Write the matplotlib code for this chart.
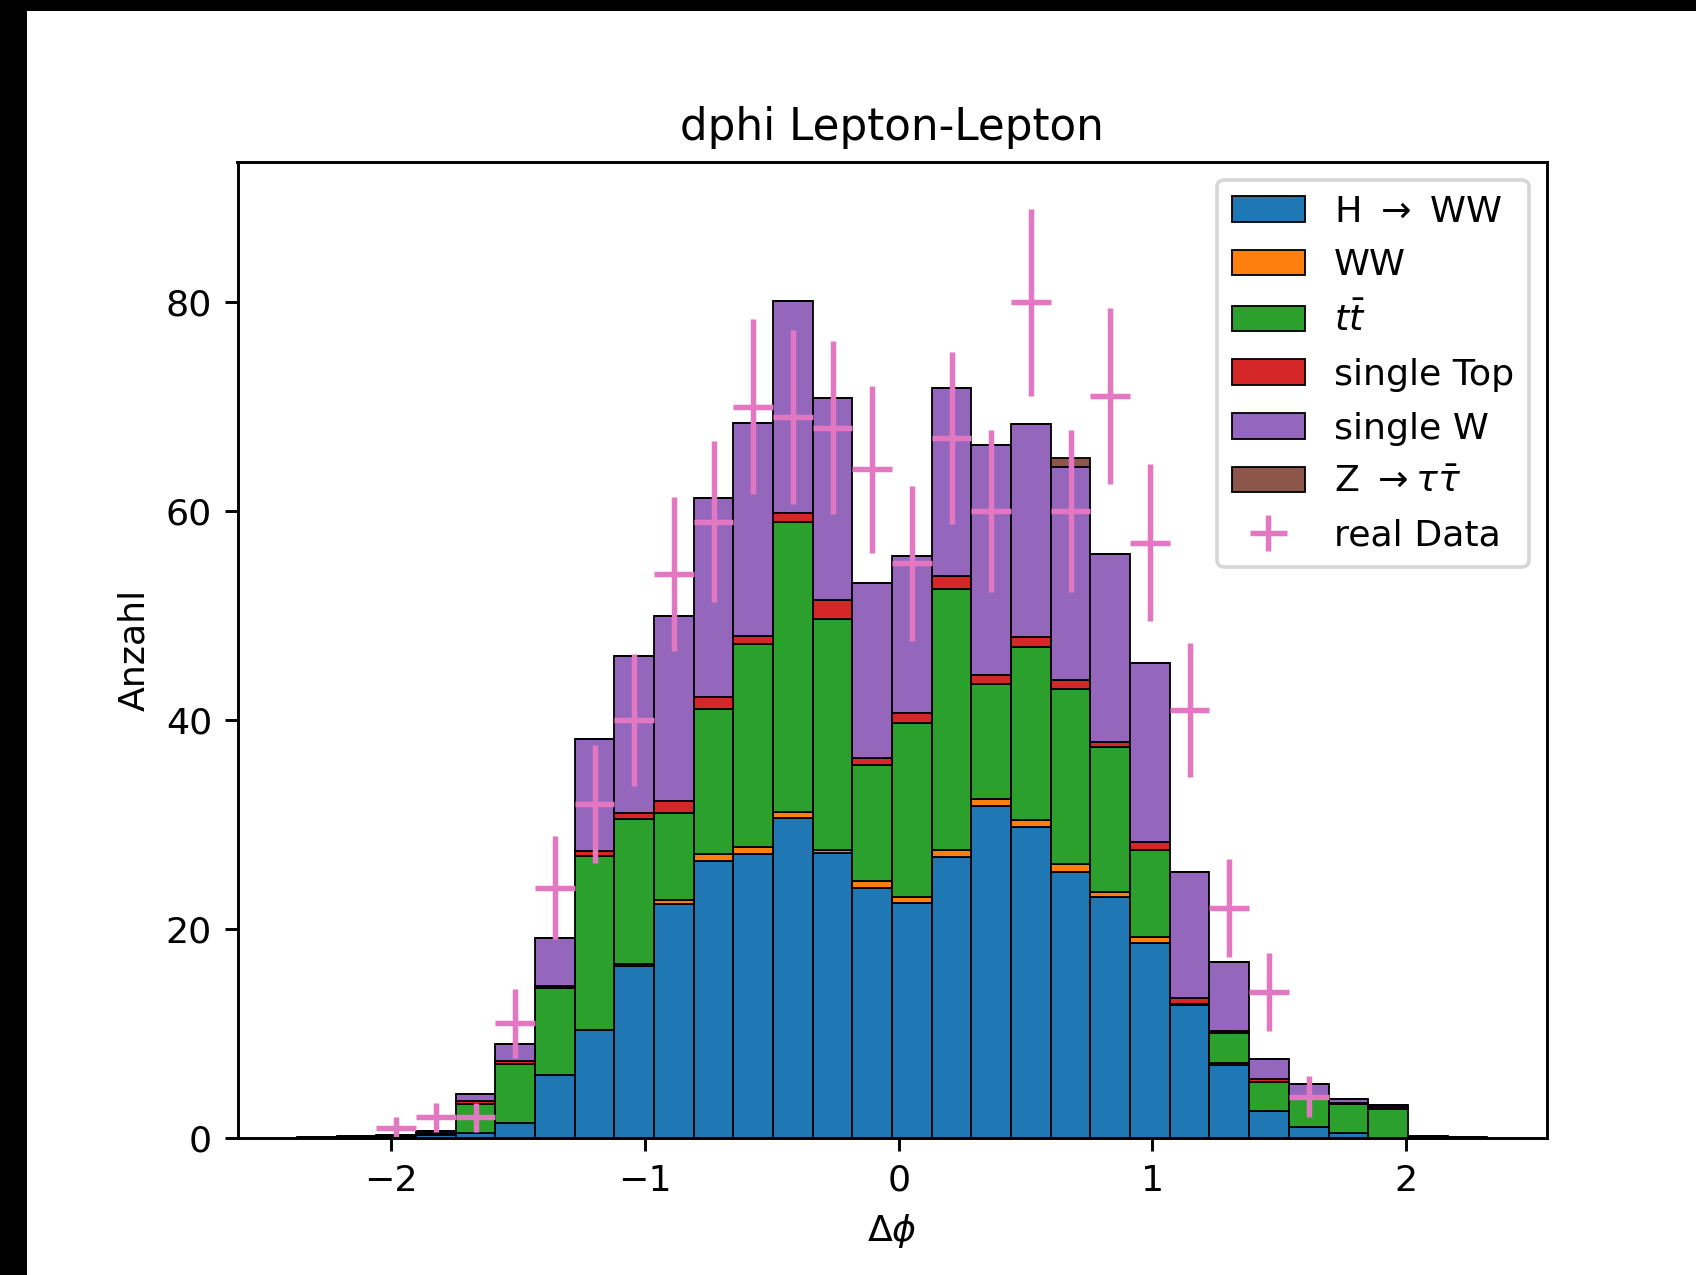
import numpy as np
import matplotlib
matplotlib.use("Agg")
import matplotlib.pyplot as plt
from matplotlib.patches import Rectangle

# ---- data ----
phi_min, phi_max, n_bins = -2.372, 2.320, 30

labels = [r'H $\rightarrow$ WW', 'WW', r'$t\bar{t}$', 'single Top', 'single W',
          r'Z $\rightarrow \tau\bar{\tau}$']
colors = ['tab:blue', 'tab:orange', 'tab:green', 'tab:red', 'tab:purple', 'tab:brown']

h_ww = [0.05, 0.1, 0.15, 0.3, 0.5, 1.52, 6.08, 10.33, 16.46, 22.4, 26.58, 27.22, 30.67, 27.32, 24.0,
        22.53, 26.96, 31.82, 29.81, 25.5, 23.13, 18.7, 12.74, 7.06, 2.59, 1.12, 0.54, 0.0, 0.1, 0.05]
ww = [0, 0, 0, 0, 0, 0, 0.02, 0.07, 0.24, 0.45, 0.64, 0.61, 0.54, 0.22, 0.64,
      0.55, 0.61, 0.6, 0.6, 0.79, 0.42, 0.57, 0.06, 0.19, 0.01, 0, 0, 0, 0, 0]
ttbar = [0, 0, 0.05, 0.15, 2.77, 5.58, 8.32, 16.6, 13.9, 8.3, 13.82, 19.44, 27.71, 22.19, 11.07,
         16.65, 24.97, 11.08, 16.64, 16.67, 13.85, 8.27, 0.1, 2.81, 2.83, 2.68, 2.71, 2.84, 0.05, 0.02]
single_top = [0, 0, 0, 0.1, 0.26, 0.35, 0.16, 0.47, 0.55, 1.11, 1.18, 0.83, 0.93, 1.77, 0.71,
              1.0, 1.21, 0.8, 0.95, 0.93, 0.55, 0.83, 0.5, 0.24, 0.29, 0.05, 0.1, 0.16, 0, 0]
single_w = [0.05, 0.1, 0.1, 0.2, 0.7, 1.6, 4.56, 10.7, 15.0, 17.72, 19.0, 20.3, 20.25, 19.36, 16.68,
            14.94, 18.05, 22.0, 20.3, 20.31, 17.91, 17.13, 12.06, 6.53, 1.85, 1.32, 0.39, 0.16, 0.05, 0.03]
z_tautau = [0, 0, 0, 0, 0, 0, 0, 0, 0, 0, 0, 0, 0, 0, 0,
            0, 0, 0, 0, 0.85, 0, 0, 0, 0, 0, 0, 0, 0, 0, 0]

data_counts = [0, 0, 1, 2, 2, 11, 24, 32, 40, 54, 59, 70, 69, 68, 64,
               55, 67, 60, 80, 60, 71, 57, 41, 22, 14, 4, 0, 0, 0, 0]

# ---- figure ----
W, H, DPI = 1696, 1275, 262
fig = plt.figure(figsize=(W / DPI, H / DPI), dpi=DPI, facecolor='black')
fig.add_artist(Rectangle((27 / W, 0), 1 - 27 / W, 1 - 11 / H, transform=fig.transFigure,
                         facecolor='white', edgecolor='none', zorder=-10))
ax = fig.add_axes([237.5 / W, 1 - 1138.4 / H, (1546.7 - 237.5) / W, (1138.4 - 162) / H])

edges = np.linspace(phi_min, phi_max, n_bins + 1)
centers = 0.5 * (edges[:-1] + edges[1:])
width = edges[1] - edges[0]

series = [h_ww, ww, ttbar, single_top, single_w, z_tautau]
ax.hist([centers] * len(series), bins=edges, weights=series, stacked=True,
        color=colors, label=labels, edgecolor='black', linewidth=0.5)

dc = np.array(data_counts, dtype=float)
mask = dc > 0
ax.errorbar(centers[mask], dc[mask], xerr=width / 2, yerr=np.sqrt(dc[mask]),
            fmt='none', ecolor='tab:pink', elinewidth=1.5, label='real Data')

ax.set_xlim(phi_min - 0.05 * (phi_max - phi_min), phi_max + 0.05 * (phi_max - phi_min))
ax.set_ylim(0, 93.4)
ax.set_title('dphi Lepton-Lepton', fontsize=12)
ax.set_xlabel(r'$\Delta\phi$')
ax.set_ylabel('Anzahl')
ax.legend(loc='upper right', labelspacing=0.54)

fig.savefig('out.png', dpi=DPI)
